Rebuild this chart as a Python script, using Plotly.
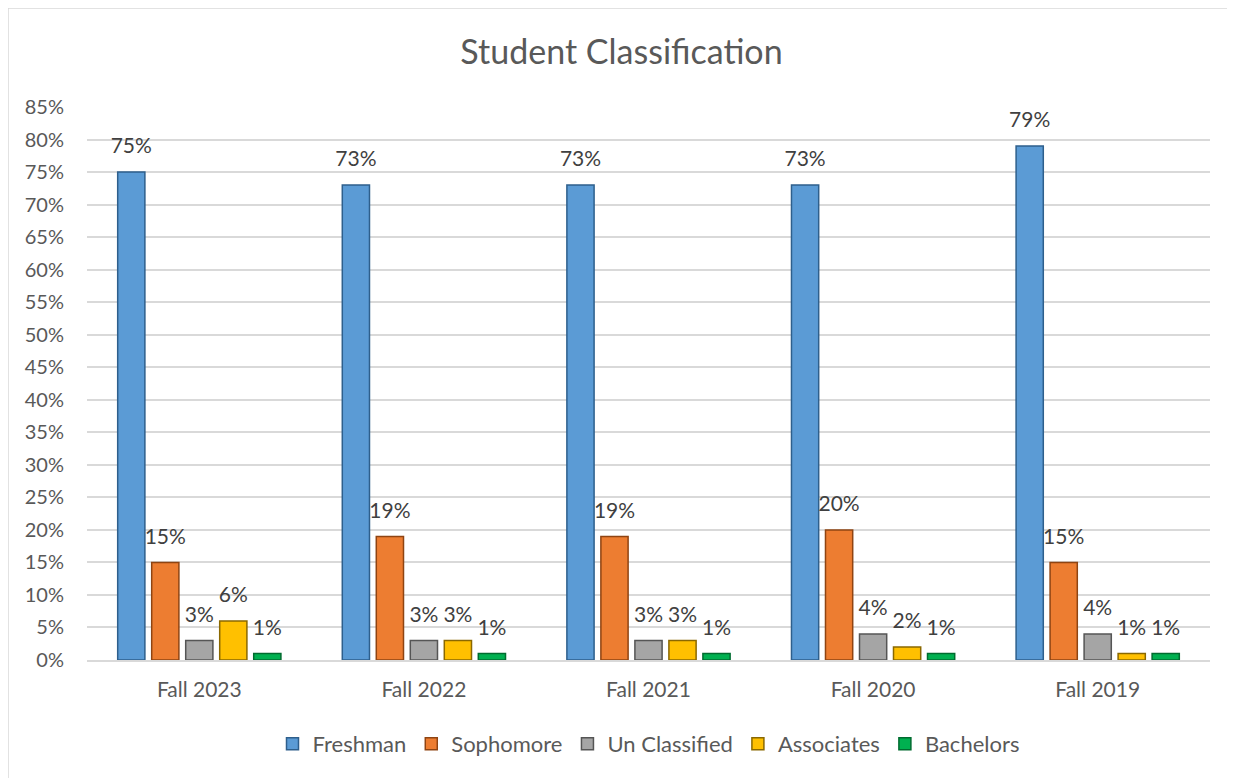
import plotly.graph_objects as go

categories = ["Fall 2023", "Fall 2022", "Fall 2021", "Fall 2020", "Fall 2019"]
freshman = [75, 73, 73, 73, 79]
sophomore = [15, 19, 19, 20, 15]
unclassified = [3, 3, 3, 4, 4]
associates = [6, 3, 3, 2, 1]
bachelors = [1, 1, 1, 1, 1]
tick_vals = list(range(0, 90, 5))
tick_text = [f"{v}%" for v in tick_vals]

series = [
    ("Freshman", freshman, "#5B9BD5", "#2E5F8C"),
    ("Sophomore", sophomore, "#ED7D31", "#8F4412"),
    ("Un Classified", unclassified, "#A5A5A5", "#555555"),
    ("Associates", associates, "#FFC000", "#8A6800"),
    ("Bachelors", bachelors, "#00B050", "#006B2F"),
]

FONT = "Lato, Carlito, 'Open Sans', sans-serif"
W, H = 1227, 770  # page body has an 8px margin
GAP = 0.243

fig = go.Figure()
for i, (name, vals, col, edge) in enumerate(series):
    fig.add_trace(go.Bar(
        name=name, x=categories, y=vals, offsetgroup=str(i),
        marker=dict(color=col, line=dict(color=edge, width=1.5)),
    ))
for i, (name, vals, col, edge) in enumerate(series):
    fig.add_trace(go.Scatter(
        name=name, x=categories, y=vals, offsetgroup=str(i),
        mode="markers+text", showlegend=False, hoverinfo="skip",
        marker=dict(size=20, color="rgba(0,0,0,0)"),
        text=[f"{v}%" for v in vals], textposition="top center",
        textfont=dict(size=21, color="#404040", family=FONT),
        cliponaxis=False,
    ))

fig.update_layout(
    width=W, height=H,
    barmode="group", bargap=GAP, bargroupgap=0.2,
    scattermode="group", scattergap=GAP,
    paper_bgcolor="white", plot_bgcolor="white",
    margin=dict(l=79, r=25, t=99, b=118),
    title=dict(text="Student Classification", x=0.5, xanchor="center",
               y=1 - 44 / H, yanchor="middle",
               font=dict(size=34, color="#595959", family=FONT)),
    font=dict(family=FONT, color="#595959", size=19),
    legend=dict(orientation="h", x=0.5, xanchor="center",
                y=-(744 - 660) / (H - 217), yanchor="middle",
                font=dict(size=22, color="#595959"), traceorder="normal",
                itemwidth=30),
    showlegend=True,
    yaxis=dict(range=[0, 85], tickvals=tick_vals, ticktext=tick_text,
               showgrid=True, gridcolor="#D9D9D9", gridwidth=1.5,
               zeroline=False, showline=False, ticks="",
               ticklabelstandoff=22,
               tickfont=dict(size=20, color="#595959")),
    xaxis=dict(showline=True, linecolor="#D9D9D9", linewidth=1.5, ticks="",
               ticklabelstandoff=10,
               tickfont=dict(size=21, color="#595959")),
    shapes=[dict(type="rect", xref="paper", yref="paper",
                 x0=-79 / (W - 104), x1=1 + 40 / (W - 104),
                 y0=-130 / (H - 217), y1=1 + 99 / (H - 217),
                 line=dict(color="#D9D9D9", width=1.5))],
)

fig.write_html("out.html")
